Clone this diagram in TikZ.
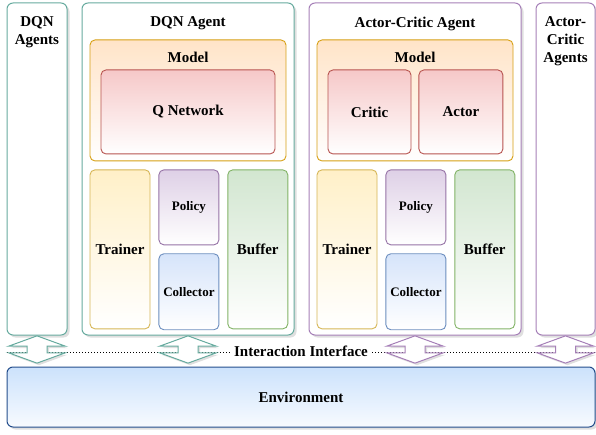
\documentclass[tikz,border=0pt]{standalone}
\usepackage{fontspec}
\setmainfont{Liberation Serif}
\usepackage{tikz}
\usetikzlibrary{shapes.arrows, positioning, shadows}
\definecolor{dqncolor}{RGB}{103,171,159}
\definecolor{accolor}{RGB}{166,128,184}
\definecolor{modelline}{RGB}{215,160,20}
\definecolor{modelfill}{RGB}{255,228,200}
\definecolor{netline}{RGB}{184,84,80}
\definecolor{netfill}{RGB}{246,200,200}
\definecolor{trainline}{RGB}{214,182,86}
\definecolor{trainfill}{RGB}{255,240,200}
\definecolor{policyline}{RGB}{150,115,166}
\definecolor{policyfill}{RGB}{222,208,230}
\definecolor{collectline}{RGB}{108,142,191}
\definecolor{collectfill}{RGB}{214,228,250}
\definecolor{bufferline}{RGB}{130,179,102}
\definecolor{bufferfill}{RGB}{210,230,208}
\definecolor{envline}{RGB}{36,78,140}
\definecolor{envfill}{RGB}{204,226,252}

\begin{document}
\begin{tikzpicture}[
    x=1pt, y=1pt,
    node distance=8pt,
    font=\fontsize{15}{18}\selectfont\bfseries,
    agent/.style={draw=#1, line width=1pt, rounded corners=6pt, fill=white, minimum height=332pt, drop shadow={shadow xshift=2.5pt, shadow yshift=-2.5pt, fill=black!25}},
    part/.style 2 args={draw=#1, top color=#2, bottom color=white, line width=0.9pt, rounded corners=5pt, align=center, inner sep=0pt},
    small/.style={font=\fontsize{13}{15}\selectfont\bfseries},
    title/.style={inner sep=0pt, align=center},
    link/.style={double arrow, shape border rotate=90, draw=#1, fill=white, line width=1pt, minimum height=27pt, minimum width=56pt, double arrow head extend=18.5pt, double arrow tip angle=140, inner sep=9.5pt, drop shadow={shadow xshift=2pt, shadow yshift=-2pt, fill=black!25}}
]
    \useasboundingbox (0,0) rectangle (596,434);

    \node[agent=dqncolor, minimum width=60pt] (dqnall) at (37,265) {};
    \node[agent=dqncolor, minimum width=212pt] (dqn) at (188,265) {};
    \node[agent=accolor, minimum width=212pt] (ac) at (415,265) {};
    \node[agent=accolor, minimum width=59pt] (acall) at (565.5,265) {};

    \node[title, below=14pt of dqnall.north] (dqnalltitle) {DQN\\Agents};
    \node[title, below=14pt of dqn.north] (dqntitle) {DQN Agent};
    \node[title, below=14pt of ac.north] (actitle) {Actor-Critic Agent};
    \node[title, below=14pt of acall.north] (acalltitle) {Actor-\\Critic\\Agents};

    \node[part={modelline}{modelfill}, minimum width=196pt, minimum height=121pt, below=37pt of dqn.north] (dqnmodel) {};
    \node[title, below=12pt of dqnmodel.north] (dqnmodeltitle) {Model};
    \node[part={netline}{netfill}, minimum width=174pt, minimum height=84pt, below=30pt of dqnmodel.north] (qnet) {Q Network};
    \node[part={trainline}{trainfill}, minimum width=60pt, minimum height=159pt, below right=8pt and 0pt of dqnmodel.south west] (dqntrainer) {Trainer};
    \node[part={policyline}{policyfill}, small, minimum width=60pt, minimum height=75pt, below right=0pt and 8pt of dqntrainer.north east] (dqnpolicy) {Policy};
    \node[part={collectline}{collectfill}, small, minimum width=60pt, minimum height=76pt, below=of dqnpolicy] (dqncollector) {Collector};
    \node[part={bufferline}{bufferfill}, minimum width=60pt, minimum height=159pt, below right=0pt and 8pt of dqnpolicy.north east] (dqnbuffer) {Buffer};

    \node[part={modelline}{modelfill}, minimum width=196pt, minimum height=121pt, below=37pt of ac.north] (acmodel) {};
    \node[title, below=12pt of acmodel.north] (acmodeltitle) {Model};
    \node[part={netline}{netfill}, minimum width=83pt, minimum height=84pt, below right=30pt and 11pt of acmodel.north west] (critic) {Critic};
    \node[part={netline}{netfill}, minimum width=84pt, minimum height=84pt, right=7pt of critic] (actor) {Actor};
    \node[part={trainline}{trainfill}, minimum width=60pt, minimum height=159pt, below right=8pt and 0pt of acmodel.south west] (actrainer) {Trainer};
    \node[part={policyline}{policyfill}, small, minimum width=60pt, minimum height=75pt, below right=0pt and 8pt of actrainer.north east] (acpolicy) {Policy};
    \node[part={collectline}{collectfill}, small, minimum width=60pt, minimum height=76pt, below=of acpolicy] (accollector) {Collector};
    \node[part={bufferline}{bufferfill}, minimum width=60pt, minimum height=159pt, below right=0pt and 8pt of acpolicy.north east] (acbuffer) {Buffer};

    \node[draw=envline, top color=envfill, bottom color=envfill!15, line width=1pt, rounded corners=6pt, minimum width=588pt, minimum height=60pt, drop shadow={shadow xshift=2.5pt, shadow yshift=-2.5pt, fill=black!25}] (env) at (301,37) {Environment};

    \node[fill=white, inner sep=4pt] (iface) at (301,83) {Interaction Interface};
    \coordinate (ifaceleft) at (7,82);
    \coordinate (ifaceright) at (596,82);
    \draw[dotted, line width=1pt] (ifaceleft) -- (ifaceleft -| iface.west);
    \draw[dotted, line width=1pt] (iface.east |- ifaceright) -- (ifaceright);

    \node[link=dqncolor] (dqnalllink) at (37,84.5) {};
    \node[link=dqncolor] (dqnlink) at (188,84.5) {};
    \node[link=accolor] (aclink) at (415,84.5) {};
    \node[link=accolor] (acalllink) at (565.5,84.5) {};
\end{tikzpicture}
\end{document}
